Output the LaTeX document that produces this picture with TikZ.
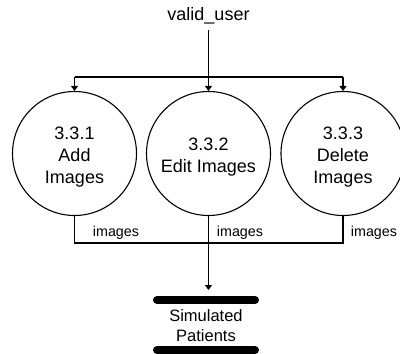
\documentclass[tikz,border=0pt]{standalone}
\usepackage{fontspec}
\setmainfont{Liberation Sans}
\usetikzlibrary{arrows.meta}
\begin{document}
\begin{tikzpicture}[x=1pt,y=-1pt, line width=1.1pt,
  proc/.style={circle, draw, minimum size=124pt, inner sep=0pt},
  ptext/.style={align=center, inner sep=0pt, font=\fontsize{18}{22}\selectfont},
  lbl/.style={font=\fontsize{14.3}{16}\selectfont, inner sep=0pt},
  flow/.style={-{Triangle[length=5pt,width=7pt]}},
  bar/.style={line width=8pt, line cap=round}]
\useasboundingbox (0,0) rectangle (400,354);
\clip (0,0) rectangle (400,354);
\node[font=\fontsize{18}{22}\selectfont, inner xsep=0pt, inner ysep=6pt, anchor=base] (vu) at (208.5,20) {valid\_user};
\node[proc] (p1) at (74.5,153.5) {};
\node[proc] (p2) at (208.5,153.5) {};
\node[proc] (p3) at (343,153.5) {};
\node[ptext] (p1t) at ([yshift=-4pt]p1.center) {3.3.1\\Add\\Images};
\node[ptext] (p2t) at ([yshift=-4pt]p2.center) {3.3.2\\Edit Images};
\node[ptext] (p3t) at ([yshift=-4pt]p3.center) {3.3.3\\Delete\\Images};
\coordinate (t1) at (74.5,77);
\coordinate (t3) at (343,77);
\draw[flow] (vu.south) -- (p2.north);
\draw (t1) -- (t3);
\draw[flow] (t1) -- (p1.north);
\draw[flow] (t3) -- (p3.north);
\coordinate (b1) at (74.5,243);
\coordinate (b2) at (208.5,243);
\coordinate (b3) at (343,243);
\draw (p1.south) -- (b1) -- (b3) -- (p3.south);
\draw (p2.south) -- (b2);
\node[lbl] (l1) at (116,233) {images};
\node[lbl] (l2) at (240,233) {images};
\node[lbl] (l3) at (374,233) {images};
\node[align=center, inner sep=0pt, font=\fontsize{16.5}{20}\selectfont] (ds) at (206,326) {Simulated\\Patients};
\coordinate (s1l) at (157,300);
\coordinate (s1r) at (255,300);
\coordinate (s2l) at (157,350);
\coordinate (s2r) at (255,350);
\draw[bar] (s1l) -- (s1r);
\draw[bar] (s2l) -- (s2r);
\coordinate (ae) at (208.5,290);
\draw[flow] (b2) -- (ae);
\end{tikzpicture}
\end{document}
